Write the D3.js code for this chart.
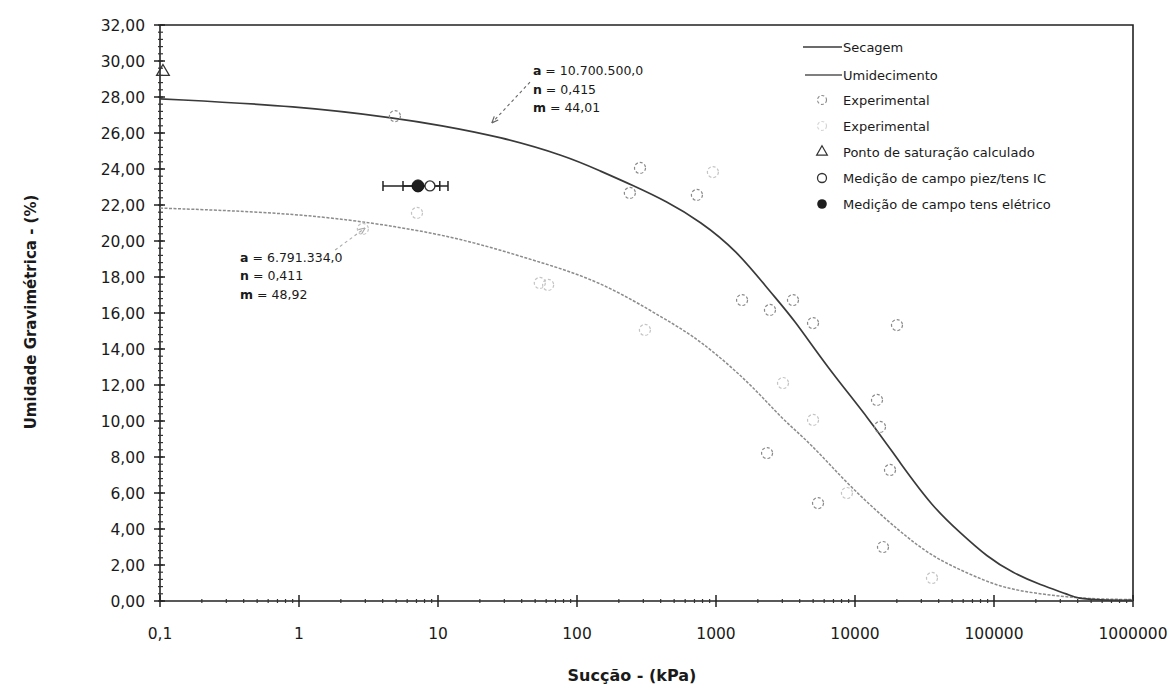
<!DOCTYPE html>
<html>
<head>
<meta charset="utf-8">
<script src="https://cdn.jsdelivr.net/npm/d3@7"></script>
<style>
body { margin: 0; background: #fff; }
svg { display: block; }
text { font-family: "DejaVu Sans", Verdana, sans-serif; fill: #1a1a1a; }
</style>
</head>
<body>
<div id="chart"></div>
<script>
// curvas ajustadas
var secagemSuccao = [0.1, 1, 5.3, 10, 28, 85, 146, 251, 443, 767, 1400, 2500, 3600, 6290, 12830, 21080, 36400, 56900, 89100, 137000, 214000, 352000, 395000, 575000, 1000000];
var secagemUmidade = [27.9, 27.5, 26.8, 26.45, 25.8, 24.7, 23.9, 23.1, 22.2, 21.1, 19.5, 17.1, 15.7, 13.0, 10.05, 7.67, 5.2, 3.8, 2.45, 1.55, 0.9, 0.33, 0.15, 0.05, 0.03];
var umidSuccao = [0.1, 1, 5.3, 16.2, 48, 146, 443, 767, 1760, 3030, 4750, 9200, 21080, 36400, 64000, 110000, 191000, 335000, 575000, 1000000];
var umidUmidade = [21.83, 21.55, 20.8, 20.05, 18.95, 17.8, 15.6, 14.5, 12.1, 10.05, 8.8, 6.33, 3.83, 2.44, 1.55, 0.78, 0.44, 0.22, 0.1, 0.08];

// pontos experimentais
var expSecSuccao = [4.9, 284, 240, 729, 1540, 2445, 3580, 4990, 20050, 14400, 15130, 17860, 2330, 5420, 15900];
var expSecUmidade = [26.94, 24.06, 22.67, 22.56, 16.72, 16.17, 16.72, 15.44, 15.33, 11.17, 9.67, 7.28, 8.22, 5.44, 3.0];
var expUmiSuccao = [7.06, 2.88, 54, 62, 308, 950, 3035, 4990, 8750, 35800];
var expUmiUmidade = [21.56, 20.67, 17.67, 17.56, 15.06, 23.83, 12.11, 10.06, 6.0, 1.28];

// saturação e campo
var satSuccao = [0.105], satUmidade = [29.4];
var campoIcSuccao = [8.75], campoIcUmidade = [23.06], campoIcMin = [5.6], campoIcMax = [11.8];
var campoElSuccao = [7.18], campoElUmidade = [23.06], campoElMin = [4.02], campoElMax = [10.3];

var xTicks = [0.1, 1, 10, 100, 1000, 10000, 100000, 1000000];
var xTickLabels = ["0,1", "1", "10", "100", "1000", "10000", "100000", "1000000"];
var yTicks = d3.range(0, 33, 2);

var legendLabels = ["Secagem", "Umidecimento", "Experimental", "Experimental",
  "Ponto de saturação calculado", "Medição de campo piez/tens IC", "Medição de campo tens elétrico"];

var W = 1171, H = 684;
var svg = d3.select('#chart').append('svg').attr('width', W).attr('height', H);
svg.append('rect').attr('width', W).attr('height', H).attr('fill', '#fff');

var x = d3.scaleLog().domain([0.1, 1000000]).range([160, 1133]);
var y = d3.scaleLinear().domain([0, 32]).range([601, 25]);

var dark = '#3a3a3a', light = '#8c8c8c';

// moldura
svg.append('path')
  .attr('d', 'M' + x(0.1) + ',' + y(32) + 'H' + x(1000000) + 'V' + y(0))
  .attr('fill', 'none').attr('stroke', '#222').attr('stroke-width', 1.6);

// eixo y
var gy = svg.append('g');
gy.append('line').attr('x1', x(0.1)).attr('x2', x(0.1)).attr('y1', y(0)).attr('y2', y(32))
  .attr('stroke', '#222').attr('stroke-width', 1.6);
gy.selectAll('.ym').data(d3.range(0, 32.01, 0.4)).enter().append('line')
  .attr('x1', x(0.1) - 2).attr('x2', x(0.1) + 3)
  .attr('y1', function (d) { return y(d); }).attr('y2', function (d) { return y(d); })
  .attr('stroke', '#333').attr('stroke-width', 1.2);
gy.selectAll('.yM').data(yTicks).enter().append('line')
  .attr('x1', x(0.1) - 6).attr('x2', x(0.1) + 5)
  .attr('y1', function (d) { return y(d); }).attr('y2', function (d) { return y(d); })
  .attr('stroke', '#222').attr('stroke-width', 1.5);
gy.selectAll('.yl').data(yTicks).enter().append('text')
  .attr('x', 145).attr('y', function (d) { return y(d) + 5.5; })
  .attr('text-anchor', 'end').style('font-size', '15.5px')
  .text(function (d) { return d3.format('.2f')(d).replace('.', ','); });

// eixo x
var gx = svg.append('g');
gx.append('line').attr('x1', x(0.1)).attr('x2', x(1000000)).attr('y1', y(0)).attr('y2', y(0))
  .attr('stroke', '#222').attr('stroke-width', 1.6);
var minors = [];
xTicks.slice(0, -1).forEach(function (t) { for (var k = 2; k < 10; k++) minors.push(t * k); });
gx.selectAll('.xm').data(minors).enter().append('line')
  .attr('x1', function (d) { return x(d); }).attr('x2', function (d) { return x(d); })
  .attr('y1', y(0) - 2).attr('y2', y(0) + 2)
  .attr('stroke', '#333').attr('stroke-width', 1.2);
gx.selectAll('.xM').data(xTicks).enter().append('line')
  .attr('x1', function (d) { return x(d); }).attr('x2', function (d) { return x(d); })
  .attr('y1', y(0) - 6).attr('y2', y(0) + 6)
  .attr('stroke', '#222').attr('stroke-width', 1.5);
gx.selectAll('.xl').data(xTicks).enter().append('text')
  .attr('x', function (d) { return x(d); }).attr('y', 639)
  .attr('text-anchor', 'middle').style('font-size', '15.5px')
  .text(function (d, i) { return xTickLabels[i]; });

// títulos
svg.append('text').attr('x', 632).attr('y', 681).attr('text-anchor', 'middle')
  .style('font-size', '16px').style('font-weight', 'bold').text('Sucção - (kPa)');
svg.append('text').attr('transform', 'translate(36,312) rotate(-90)').attr('text-anchor', 'middle')
  .style('font-size', '15px').style('font-weight', 'bold').text('Umidade Gravimétrica - (%)');

// curvas
var line = d3.line().curve(d3.curveBasis)
  .x(function (d) { return x(d[0]); }).y(function (d) { return y(d[1]); });
svg.append('path').datum(d3.zip(umidSuccao, umidUmidade)).attr('d', line)
  .attr('fill', 'none').attr('stroke', light).attr('stroke-width', 1.5).attr('stroke-dasharray', '3,1.5');
svg.append('path').datum(d3.zip(secagemSuccao, secagemUmidade)).attr('d', line)
  .attr('fill', 'none').attr('stroke', dark).attr('stroke-width', 1.7);

// experimentais
svg.selectAll('.es').data(d3.zip(expSecSuccao, expSecUmidade)).enter().append('circle')
  .attr('cx', function (d) { return x(d[0]); }).attr('cy', function (d) { return y(d[1]); })
  .attr('r', 5.5).attr('fill', 'none').attr('stroke', '#8a8a8a').attr('stroke-width', 1.2)
  .attr('stroke-dasharray', '3,2');
svg.selectAll('.eu').data(d3.zip(expUmiSuccao, expUmiUmidade)).enter().append('circle')
  .attr('cx', function (d) { return x(d[0]); }).attr('cy', function (d) { return y(d[1]); })
  .attr('r', 5.5).attr('fill', 'none').attr('stroke', '#c4c4c4').attr('stroke-width', 1.2)
  .attr('stroke-dasharray', '3,2');

// ponto de saturação
var tri = d3.symbol().type(d3.symbolTriangle).size(70);
svg.selectAll('.sat').data(d3.zip(satSuccao, satUmidade)).enter().append('path')
  .attr('d', tri).attr('transform', function (d) { return 'translate(' + x(d[0]) + ',' + y(d[1]) + ')'; })
  .attr('fill', 'none').attr('stroke', '#333').attr('stroke-width', 1.3);

// medições de campo com barras de erro
function errBar(sx, sy, lo, hi) {
  var g = svg.append('g').attr('stroke', '#222').attr('stroke-width', 1.5);
  sx.forEach(function (s, i) {
    g.append('line').attr('x1', x(lo[i])).attr('x2', x(hi[i])).attr('y1', y(sy[i])).attr('y2', y(sy[i]));
    g.append('line').attr('x1', x(lo[i])).attr('x2', x(lo[i])).attr('y1', y(sy[i]) - 5).attr('y2', y(sy[i]) + 5);
    g.append('line').attr('x1', x(hi[i])).attr('x2', x(hi[i])).attr('y1', y(sy[i]) - 5).attr('y2', y(sy[i]) + 5);
  });
}
errBar(campoIcSuccao, campoIcUmidade, campoIcMin, campoIcMax);
errBar(campoElSuccao, campoElUmidade, campoElMin, campoElMax);
svg.selectAll('.ci').data(d3.zip(campoIcSuccao, campoIcUmidade)).enter().append('circle')
  .attr('cx', function (d) { return x(d[0]); }).attr('cy', function (d) { return y(d[1]); })
  .attr('r', 5).attr('fill', '#fff').attr('stroke', '#333').attr('stroke-width', 1.4);
svg.selectAll('.ce').data(d3.zip(campoElSuccao, campoElUmidade)).enter().append('circle')
  .attr('cx', function (d) { return x(d[0]); }).attr('cy', function (d) { return y(d[1]); })
  .attr('r', 6).attr('fill', '#1e1e1e').attr('stroke', '#111').attr('stroke-width', 1);

// anotações
function arrow(s0, w0, s1, w1, col) {
  var x0 = x(s0), y0 = y(w0), x1 = x(s1), y1 = y(w1);
  var ang = Math.atan2(y1 - y0, x1 - x0);
  svg.append('line').attr('x1', x0).attr('y1', y0).attr('x2', x1).attr('y2', y1)
    .attr('stroke', col).attr('stroke-width', 1.1).attr('stroke-dasharray', '3,3');
  svg.append('path').attr('d', 'M' + x1 + ',' + y1 +
      'L' + (x1 - 7 * Math.cos(ang - 0.4)) + ',' + (y1 - 7 * Math.sin(ang - 0.4)) +
      'M' + x1 + ',' + y1 +
      'L' + (x1 - 7 * Math.cos(ang + 0.4)) + ',' + (y1 - 7 * Math.sin(ang + 0.4)))
    .attr('stroke', col).attr('stroke-width', 1.2).attr('fill', 'none');
}
arrow(45.9, 28.83, 24.4, 26.56, '#666');
arrow(1.82, 19.5, 2.99, 20.72, '#aaa');

function annot(px, py, lines) {
  lines.forEach(function (l, i) {
    var t = svg.append('text').attr('x', px).attr('y', py + i * 18.5).style('font-size', '12.5px');
    t.append('tspan').style('font-weight', 'bold').text(l[0]);
    t.append('tspan').text(l[1]);
  });
}
annot(x(48.2), y(29.2), [['a', ' = 10.700.500,0'], ['n', ' = 0,415'], ['m', ' = 44,01']]);
annot(x(0.377), y(18.85), [['a', ' = 6.791.334,0'], ['n', ' = 0,411'], ['m', ' = 48,92']]);

// legenda
var lg = svg.append('g');
var rowY = [47, 75, 100, 126, 152, 178, 204];
lg.selectAll('text').data(legendLabels).enter().append('text')
  .attr('x', 843).attr('y', function (d, i) { return rowY[i] + 5; })
  .style('font-size', '13px').text(function (d) { return d; });
lg.append('line').attr('x1', 803).attr('x2', 842).attr('y1', rowY[0]).attr('y2', rowY[0])
  .attr('stroke', dark).attr('stroke-width', 1.6);
lg.append('line').attr('x1', 805).attr('x2', 842).attr('y1', rowY[1]).attr('y2', rowY[1])
  .attr('stroke', '#555').attr('stroke-width', 1.4);
lg.append('circle').attr('cx', 822).attr('cy', rowY[2]).attr('r', 4.5).attr('fill', 'none')
  .attr('stroke', '#8a8a8a').attr('stroke-width', 1.1).attr('stroke-dasharray', '3,2');
lg.append('circle').attr('cx', 822).attr('cy', rowY[3]).attr('r', 4.5).attr('fill', 'none')
  .attr('stroke', '#d4d4d4').attr('stroke-width', 1.1).attr('stroke-dasharray', '3,2');
lg.append('path').attr('d', d3.symbol().type(d3.symbolTriangle).size(50))
  .attr('transform', 'translate(822,' + rowY[4] + ')').attr('fill', 'none').attr('stroke', '#333').attr('stroke-width', 1.2);
lg.append('circle').attr('cx', 822).attr('cy', rowY[5]).attr('r', 4.5).attr('fill', 'none')
  .attr('stroke', '#333').attr('stroke-width', 1.3);
lg.append('circle').attr('cx', 822).attr('cy', rowY[6]).attr('r', 4.8).attr('fill', '#1e1e1e');
</script>
</body>
</html>
